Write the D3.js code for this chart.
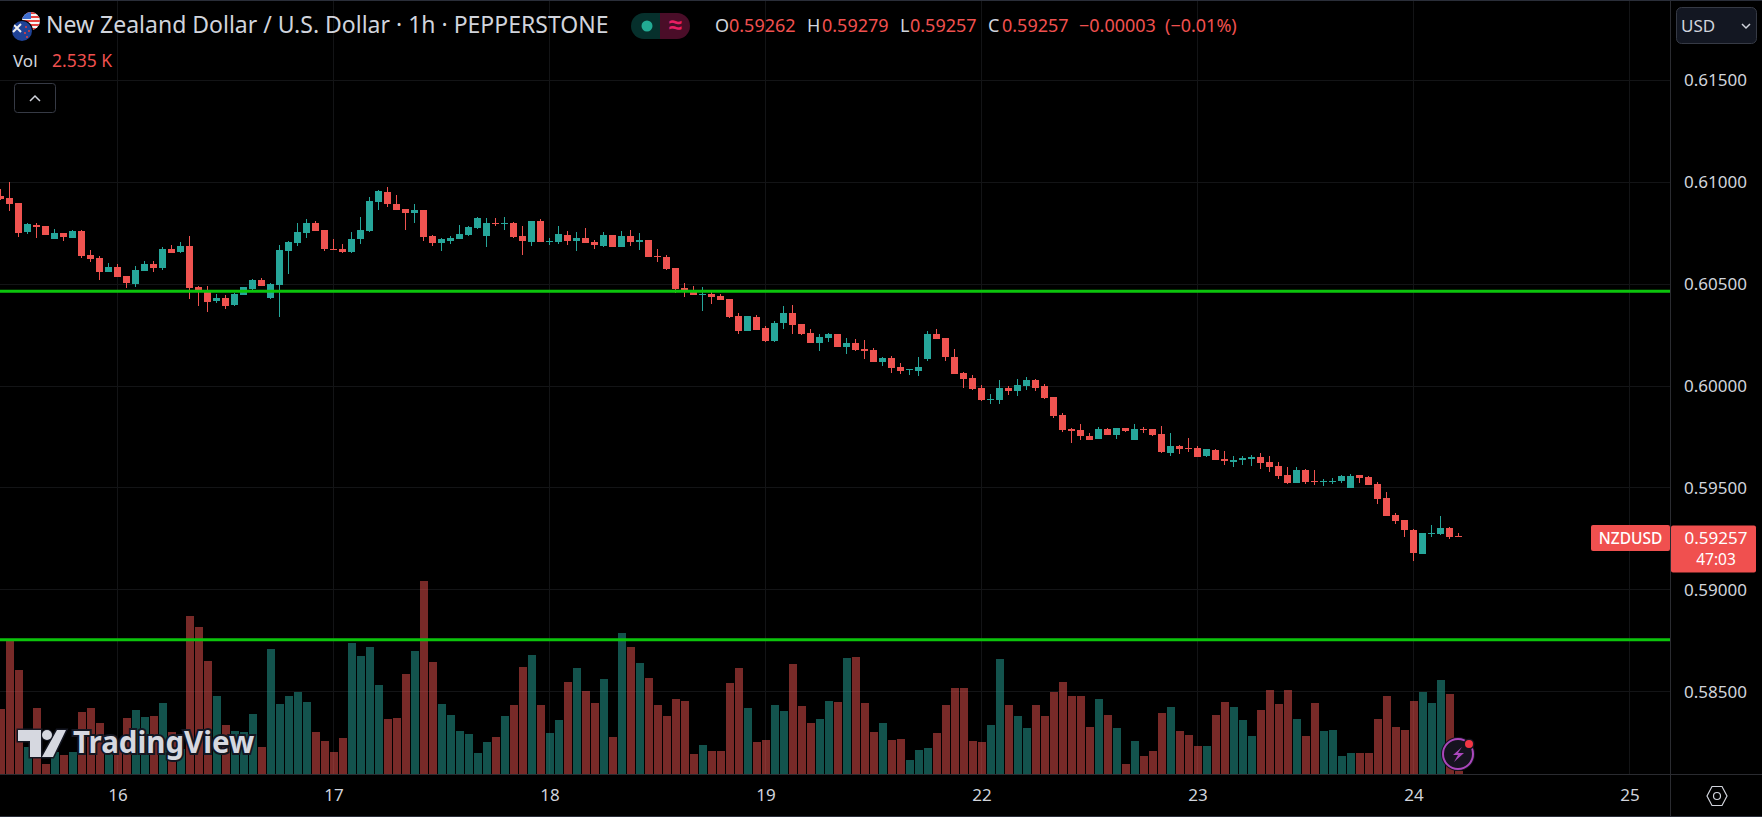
<!DOCTYPE html>
<html>
<head>
<meta charset="utf-8">
<title>NZDUSD 1h</title>
<script src="https://cdn.jsdelivr.net/npm/d3@7"></script>
<style>
    html, body { margin: 0; padding: 0; background: #000; overflow: hidden; }
    text { font-family: "Noto Sans", sans-serif; }
</style>
</head>
<body>
<div id="chart"></div>
<script>
// Prices, one entry per hourly candle
var opens = [
    0.60932,0.60923,0.60898,0.60756,0.60790,0.60785,0.60721,0.60751,0.60726,0.60761,
    0.60643,0.60628,0.60559,0.60584,0.60540,0.60500,0.60564,0.60599,0.60579,0.60672,
    0.60658,0.60687,0.60486,0.60471,0.60417,0.60432,0.60397,0.60446,0.60476,0.60520,
    0.60432,0.60496,0.60662,0.60702,0.60751,0.60800,0.60766,0.60672,0.60672,0.60658,
    0.60721,0.60761,0.60903,0.60952,0.60893,0.60869,0.60849,0.60864,0.60736,0.60702,
    0.60712,0.60721,0.60741,0.60775,0.60736,0.60800,0.60795,0.60800,0.60736,0.60707,
    0.60810,0.60707,0.60707,0.60741,0.60712,0.60726,0.60707,0.60687,0.60741,0.60682,
    0.60736,0.60707,0.60716,0.60638,0.60633,0.60579,0.60481,0.60466,0.60446,0.60451,
    0.60442,0.60427,0.60343,0.60270,0.60339,0.60285,0.60221,0.60309,0.60358,0.60304,
    0.60260,0.60211,0.60236,0.60255,0.60191,0.60211,0.60181,0.60177,0.60118,0.60137,
    0.60093,0.60078,0.60074,0.60132,0.60255,0.60236,0.60142,0.60064,0.60039,0.59990,
    0.59931,0.59931,0.59990,0.59975,0.60000,0.60029,0.60000,0.59946,0.59858,0.59789,
    0.59784,0.59754,0.59740,0.59789,0.59759,0.59794,0.59735,0.59789,0.59789,0.59764,
    0.59671,0.59705,0.59696,0.59696,0.59656,0.59686,0.59641,0.59627,0.59637,0.59642,
    0.59651,0.59627,0.59607,0.59563,0.59524,0.59588,0.59534,0.59529,0.59529,0.59534,
    0.59499,0.59563,0.59553,0.59519,0.59450,0.59367,0.59342,0.59293,0.59175,0.59274,
    0.59274,0.59303,0.59262
];
var highs = [
    0.60967,0.61001,0.60898,0.60800,0.60800,0.60785,0.60770,0.60751,0.60766,0.60766,
    0.60667,0.60638,0.60604,0.60599,0.60540,0.60589,0.60613,0.60613,0.60682,0.60692,
    0.60707,0.60736,0.60491,0.60491,0.60451,0.60446,0.60456,0.60486,0.60525,0.60530,
    0.60505,0.60692,0.60712,0.60800,0.60820,0.60810,0.60766,0.60721,0.60697,0.60756,
    0.60829,0.60927,0.60962,0.60977,0.60937,0.60869,0.60893,0.60864,0.60741,0.60726,
    0.60736,0.60790,0.60785,0.60829,0.60824,0.60824,0.60829,0.60805,0.60785,0.60810,
    0.60820,0.60726,0.60785,0.60761,0.60756,0.60775,0.60716,0.60756,0.60741,0.60761,
    0.60766,0.60751,0.60716,0.60672,0.60643,0.60579,0.60505,0.60491,0.60486,0.60461,
    0.60451,0.60427,0.60358,0.60343,0.60348,0.60294,0.60319,0.60392,0.60397,0.60304,
    0.60280,0.60255,0.60260,0.60255,0.60236,0.60231,0.60226,0.60186,0.60142,0.60147,
    0.60113,0.60083,0.60142,0.60270,0.60280,0.60236,0.60181,0.60069,0.60054,0.60005,
    0.59961,0.60029,0.60000,0.60034,0.60044,0.60034,0.60010,0.59946,0.59867,0.59794,
    0.59813,0.59769,0.59799,0.59794,0.59794,0.59794,0.59813,0.59799,0.59789,0.59803,
    0.59769,0.59710,0.59745,0.59705,0.59691,0.59691,0.59681,0.59656,0.59656,0.59661,
    0.59671,0.59656,0.59627,0.59602,0.59602,0.59593,0.59588,0.59543,0.59548,0.59563,
    0.59568,0.59563,0.59558,0.59529,0.59480,0.59377,0.59342,0.59298,0.59278,0.59318,
    0.59362,0.59308,0.59279
];
var lows = [
    0.60913,0.60859,0.60731,0.60746,0.60726,0.60741,0.60721,0.60712,0.60726,0.60628,
    0.60608,0.60520,0.60559,0.60535,0.60481,0.60486,0.60564,0.60559,0.60569,0.60653,
    0.60653,0.60427,0.60392,0.60363,0.60407,0.60378,0.60392,0.60446,0.60466,0.60491,
    0.60427,0.60339,0.60550,0.60687,0.60726,0.60761,0.60662,0.60667,0.60653,0.60653,
    0.60697,0.60756,0.60864,0.60878,0.60864,0.60766,0.60800,0.60712,0.60687,0.60662,
    0.60697,0.60721,0.60736,0.60770,0.60682,0.60785,0.60766,0.60726,0.60643,0.60687,
    0.60707,0.60692,0.60697,0.60692,0.60662,0.60702,0.60672,0.60682,0.60682,0.60682,
    0.60687,0.60667,0.60633,0.60608,0.60569,0.60456,0.60437,0.60446,0.60368,0.60402,
    0.60422,0.60334,0.60255,0.60270,0.60275,0.60216,0.60216,0.60280,0.60255,0.60250,
    0.60211,0.60172,0.60216,0.60191,0.60157,0.60172,0.60132,0.60118,0.60098,0.60064,
    0.60059,0.60054,0.60049,0.60123,0.60231,0.60123,0.60059,0.59990,0.59980,0.59926,
    0.59912,0.59912,0.59956,0.59951,0.59980,0.59975,0.59936,0.59843,0.59774,0.59720,
    0.59735,0.59735,0.59740,0.59759,0.59740,0.59774,0.59735,0.59769,0.59754,0.59671,
    0.59656,0.59666,0.59676,0.59651,0.59651,0.59637,0.59612,0.59602,0.59612,0.59607,
    0.59593,0.59578,0.59543,0.59519,0.59524,0.59519,0.59514,0.59509,0.59519,0.59524,
    0.59499,0.59524,0.59514,0.59421,0.59362,0.59323,0.59259,0.59141,0.59175,0.59259,
    0.59269,0.59249,0.59257
];
var closes = [
    0.60918,0.60893,0.60751,0.60795,0.60780,0.60741,0.60751,0.60731,0.60761,0.60638,
    0.60623,0.60559,0.60584,0.60535,0.60505,0.60569,0.60599,0.60579,0.60672,0.60653,
    0.60687,0.60481,0.60466,0.60412,0.60432,0.60392,0.60451,0.60486,0.60520,0.60491,
    0.60500,0.60667,0.60707,0.60756,0.60800,0.60761,0.60672,0.60667,0.60658,0.60721,
    0.60766,0.60908,0.60957,0.60893,0.60864,0.60849,0.60864,0.60731,0.60702,0.60721,
    0.60726,0.60746,0.60780,0.60824,0.60800,0.60795,0.60800,0.60731,0.60712,0.60810,
    0.60707,0.60712,0.60746,0.60712,0.60726,0.60702,0.60692,0.60741,0.60682,0.60736,
    0.60707,0.60716,0.60633,0.60633,0.60574,0.60476,0.60461,0.60446,0.60451,0.60437,
    0.60422,0.60339,0.60270,0.60343,0.60275,0.60221,0.60309,0.60358,0.60299,0.60255,
    0.60211,0.60240,0.60255,0.60191,0.60211,0.60177,0.60172,0.60118,0.60137,0.60088,
    0.60074,0.60083,0.60093,0.60255,0.60231,0.60142,0.60059,0.60034,0.59985,0.59931,
    0.59936,0.59990,0.59975,0.60005,0.60029,0.59990,0.59941,0.59853,0.59784,0.59779,
    0.59754,0.59735,0.59789,0.59759,0.59794,0.59779,0.59789,0.59784,0.59759,0.59676,
    0.59705,0.59691,0.59691,0.59651,0.59691,0.59637,0.59632,0.59637,0.59646,0.59651,
    0.59622,0.59602,0.59558,0.59524,0.59588,0.59529,0.59529,0.59534,0.59534,0.59558,
    0.59558,0.59548,0.59514,0.59445,0.59362,0.59337,0.59293,0.59180,0.59278,0.59278,
    0.59303,0.59259,0.59257
];
// Volume in thousands. A few bars behind the watermark are guesses.
var volumes = [
    65,134,104,27,66,10,22,19,22,62,
    66,51,25,30,56,64,57,58,71,42,
    25,158,147,113,78,49,43,42,60,27,
    125,70,78,82,72,42,33,22,36,131,
    118,127,89,55,56,100,123,193,112,70,
    59,43,40,21,32,37,58,69,107,119,
    69,41,54,92,106,83,71,95,37,141,
    127,111,96,69,58,75,73,20,29,23,
    23,91,106,66,32,34,69,63,110,68,
    51,55,73,72,116,117,71,42,51,34,
    35,14,24,26,41,69,86,86,33,32,
    49,115,69,58,46,69,58,82,92,78,
    78,47,75,59,46,10,33,18,23,61,
    67,43,39,28,28,59,72,67,54,38,
    64,84,70,84,55,38,71,43,44,18,
    21,21,21,55,78,47,44,73,82,71,
    94,80,2.535
];
var priceTicks = [0.585, 0.59, 0.595, 0.6, 0.605, 0.61, 0.615];
var dayTicks = [13, 37, 61, 85, 109, 133, 157, 181];   // candle index of each day start
var dayLabels = ["16", "17", "18", "19", "22", "23", "24", "25"];
var levels = [0.60465, 0.58755];                       // the two green horizontal lines
var lastPrice = 0.59257;

var width = 1762, height = 817,
    plotRight = 1670, plotBottom = 774;

var upColor = "#26a69a", downColor = "#ef5350",
    gridColor = "#131416", borderColor = "#2a2b30", textColor = "#d1d4dc";

var candles = d3.range(opens.length);

var svg = d3.select("#chart").append("svg")
    .attr("width", width)
    .attr("height", height)
    .style("display", "block");

// Scales
var x = d3.scaleLinear().domain([0, 181]).range([0.5, 1629.5]);
var y = d3.scaleLinear().domain([0.615, 0.585]).range([80.3, 691.7]);
var yVol = d3.scaleLinear().domain([0, 193]).range([plotBottom, plotBottom - 193]);

function crisp(v) { return Math.round(v - 0.5) + 0.5; }
function barColor(i) { return closes[i] >= opens[i] ? upColor : downColor; }

// Grid
svg.append("g").selectAll("line")
    .data(priceTicks)
    .enter().append("line")
    .attr("x1", 0).attr("x2", plotRight)
    .attr("y1", function (d) { return crisp(y(d)); })
    .attr("y2", function (d) { return crisp(y(d)); })
    .attr("stroke", gridColor);

svg.append("g").selectAll("line")
    .data(dayTicks)
    .enter().append("line")
    .attr("x1", function (d) { return x(d); })
    .attr("x2", function (d) { return x(d); })
    .attr("y1", 0).attr("y2", plotBottom)
    .attr("stroke", gridColor);

// Volume
svg.append("g").attr("shape-rendering", "crispEdges").selectAll("rect")
    .data(candles)
    .enter().append("rect")
    .attr("x", function (i) { return x(i) - 4; })
    .attr("width", 8)
    .attr("y", function (i) { return yVol(volumes[i]); })
    .attr("height", function (i) { return plotBottom - yVol(volumes[i]); })
    .attr("fill", barColor)
    .attr("fill-opacity", 0.5);

// Candles
var candleG = svg.append("g").attr("shape-rendering", "crispEdges");

candleG.selectAll(".wick")
    .data(candles)
    .enter().append("line")
    .attr("class", "wick")
    .attr("x1", function (i) { return x(i); })
    .attr("x2", function (i) { return x(i); })
    .attr("y1", function (i) { return y(highs[i]); })
    .attr("y2", function (i) { return y(lows[i]); })
    .attr("stroke", barColor);

candleG.selectAll(".body")
    .data(candles)
    .enter().append("rect")
    .attr("class", "body")
    .attr("x", function (i) { return x(i) - 3.5; })
    .attr("width", 7)
    .attr("y", function (i) { return Math.round(y(Math.max(opens[i], closes[i]))); })
    .attr("height", function (i) { return Math.max(1, Math.round(Math.abs(y(opens[i]) - y(closes[i])))); })
    .attr("fill", barColor);

// Horizontal levels
svg.append("g").selectAll("line")
    .data(levels)
    .enter().append("line")
    .attr("x1", 0).attr("x2", plotRight)
    .attr("y1", function (d) { return y(d); })
    .attr("y2", function (d) { return y(d); })
    .attr("stroke", "#0cc40c")
    .attr("stroke-width", 3);

// Axes
var yAxis = svg.append("g")
    .attr("transform", "translate(" + plotRight + ",0)")
    .call(d3.axisRight(y).tickValues(priceTicks).tickSize(0).tickPadding(14).tickFormat(d3.format(".5f")));
var xAxis = svg.append("g")
    .attr("transform", "translate(0," + plotBottom + ")")
    .call(d3.axisBottom(x).tickValues(dayTicks).tickSize(0).tickPadding(15)
        .tickFormat(function (d, i) { return dayLabels[i]; }));

[yAxis, xAxis].forEach(function (axis) {
    axis.select(".domain").remove();
    axis.selectAll("text")
        .style("font-size", "17px")
        .style("font-family", '"Noto Sans", sans-serif')
        .attr("fill", textColor);
});

// Pane borders
svg.append("line").attr("x1", plotRight + 0.5).attr("x2", plotRight + 0.5).attr("y1", 0).attr("y2", height).attr("stroke", borderColor);
svg.append("line").attr("x1", 0).attr("x2", width).attr("y1", plotBottom + 0.5).attr("y2", plotBottom + 0.5).attr("stroke", borderColor);
svg.append("line").attr("x1", 0).attr("x2", width).attr("y1", 0.5).attr("y2", 0.5).attr("stroke", "#2a2e39");
svg.append("line").attr("x1", 0).attr("x2", width).attr("y1", height - 0.5).attr("y2", height - 0.5).attr("stroke", "#2a2e39");

// Flags
var defs = svg.append("defs");
defs.append("clipPath").attr("id", "usClip").append("circle").attr("cx", 31).attr("cy", 21).attr("r", 9);
defs.append("clipPath").attr("id", "nzClip").append("circle").attr("cx", 22).attr("cy", 31).attr("r", 10);

var us = svg.append("g").attr("clip-path", "url(#usClip)");
us.append("rect").attr("x", 20).attr("y", 10).attr("width", 22).attr("height", 22).attr("fill", "#f5f5f5");
d3.range(5).forEach(function (k) {
    us.append("rect").attr("x", 20).attr("y", 12 + k * 4).attr("width", 22).attr("height", 2).attr("fill", "#e8413e");
});
us.append("rect").attr("x", 20).attr("y", 10).attr("width", 11).attr("height", 9).attr("fill", "#3f6fd0");

svg.append("circle").attr("cx", 22).attr("cy", 31).attr("r", 11).attr("fill", "#000");
var nz = svg.append("g").attr("clip-path", "url(#nzClip)");
nz.append("rect").attr("x", 11).attr("y", 20).attr("width", 22).attr("height", 22).attr("fill", "#1f4296");
nz.append("path").attr("d", "M13,24L21,32M21,24L13,32").attr("stroke", "#f0f0f0").attr("stroke-width", 2);
[[26, 27], [29, 31], [25, 33], [27, 37]].forEach(function (p) {
    nz.append("circle").attr("cx", p[0]).attr("cy", p[1]).attr("r", 1).attr("fill", "#e8413e");
});

// Legend
function label(txt, xPos, yPos, size, color, anchor) {
    return svg.append("text")
        .attr("x", xPos).attr("y", yPos)
        .attr("fill", color)
        .attr("text-anchor", anchor || "start")
        .style("font-size", size + "px")
        .text(txt);
}

label("New Zealand Dollar / U.S. Dollar · 1h · PEPPERSTONE", 46, 33, 23, textColor);

svg.append("path").attr("d", "M660,13H644a13,13 0 0 0 0,26H660Z").attr("fill", "#06302c");
svg.append("path").attr("d", "M660,13H677a13,13 0 0 1 0,26H660Z").attr("fill", "#4a0d28");
svg.append("circle").attr("cx", 647).attr("cy", 26).attr("r", 5.5).attr("fill", "#22ab94");
label("≈", 675, 33, 24, "#e91e63", "middle").style("font-weight", 700);

var red = "#f0504f";
[["O", 715, textColor], ["0.59262", 729, red], ["H", 807, textColor], ["0.59279", 822, red],
 ["L", 900, textColor], ["0.59257", 910, red], ["C", 988, textColor], ["0.59257", 1002, red],
 ["−0.00003", 1079, red], ["(−0.01%)", 1165, red]].forEach(function (d) {
    label(d[0], d[1], 32, 18, d[2]);
});

label("Vol", 13, 67, 17, textColor);
label("2.535 K", 52, 67, 17.5, red);

svg.append("rect").attr("x", 14.5).attr("y", 83.5).attr("width", 41).attr("height", 29).attr("rx", 3)
    .attr("fill", "none").attr("stroke", "#363a45");
svg.append("path").attr("d", "M30,101L35,96L40,101").attr("fill", "none").attr("stroke", textColor).attr("stroke-width", 1.5);

svg.append("rect").attr("x", 1676.5).attr("y", 7.5).attr("width", 80).attr("height", 36).attr("rx", 5)
    .attr("fill", "#131722").attr("stroke", "#363a45");
label("USD", 1681, 31.5, 17, textColor);
svg.append("path").attr("d", "M1742,24L1746,28L1750,24").attr("fill", "none").attr("stroke", textColor).attr("stroke-width", 1.5);

// Last price tags
svg.append("rect").attr("x", 1591).attr("y", 525).attr("width", 79).attr("height", 26).attr("rx", 2).attr("fill", red);
label("NZDUSD", 1630.5, 543.5, 15.5, "#fff", "middle").style("font-weight", 500);
svg.append("rect").attr("x", 1671).attr("y", y(lastPrice) - 12).attr("width", 85).attr("height", 47).attr("rx", 2).attr("fill", red);
label("0.59257", 1716, 544, 17, "#fff", "middle");
label("47:03", 1716, 565, 15.5, "#fff", "middle");

// Watermark
var logo = svg.append("g");
logo.append("path")
    .attr("d", "M18,730H41V757H30V741H18Z M57,730H66L53,757H42Z")
    .attr("fill", "#d6d8e0").attr("stroke", "#141722").attr("stroke-width", 3).attr("paint-order", "stroke");
logo.append("circle").attr("cx", 47).attr("cy", 735).attr("r", 5)
    .attr("fill", "#d6d8e0").attr("stroke", "#141722").attr("stroke-width", 2).attr("paint-order", "stroke");
label("TradingView", 73, 753, 29.5, "#d6d8e0")
    .style("font-weight", 700)
    .attr("stroke", "#141722").attr("stroke-width", 4).attr("paint-order", "stroke");

// Flash icon
svg.append("circle").attr("cx", 1458).attr("cy", 754).attr("r", 17).attr("fill", "#16131f");
svg.append("circle").attr("cx", 1458).attr("cy", 754).attr("r", 15).attr("fill", "none").attr("stroke", "#ab47bc").attr("stroke-width", 2);
svg.append("path").attr("d", "M1462,747L1453,755H1458L1454,762L1464,753H1458Z").attr("fill", "#ab47bc");
svg.append("circle").attr("cx", 1469).attr("cy", 744).attr("r", 5.5).attr("fill", "#16131f");
svg.append("circle").attr("cx", 1469).attr("cy", 744).attr("r", 4).attr("fill", "#f23645");

// Settings
svg.append("path").attr("d", "M1707,796L1712,786.5H1722L1727,796L1722,805.5H1712Z").attr("fill", "none").attr("stroke", textColor).attr("stroke-width", 1.2);
svg.append("circle").attr("cx", 1717).attr("cy", 796).attr("r", 3.5).attr("fill", "none").attr("stroke", textColor).attr("stroke-width", 1.2);
</script>
</body>
</html>
